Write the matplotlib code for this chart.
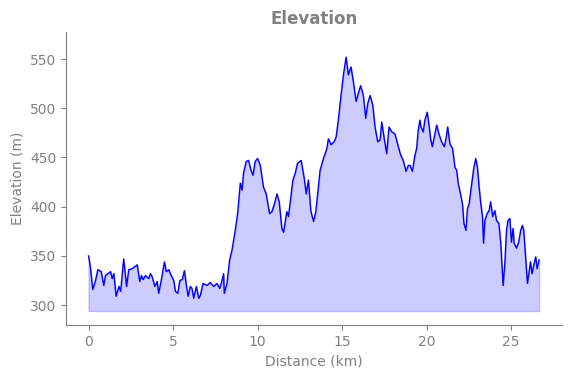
import numpy as np
import matplotlib
matplotlib.use('Agg')
import matplotlib.pyplot as plt

# distance (km) and elevation (m)
distance_km = [
    0.0, 0.1, 0.25, 0.4, 0.55, 0.75, 0.9, 1.0, 1.3, 1.4, 1.5, 1.63, 1.8, 1.9,
    2.08, 2.25, 2.38, 2.58, 2.88, 3.03, 3.13, 3.23, 3.37, 3.56, 3.66, 3.76,
    3.92, 4.06, 4.15, 4.3, 4.49, 4.6, 4.75, 4.84, 5.04, 5.14, 5.28, 5.4, 5.55,
    5.67, 5.79, 5.89, 6.02, 6.12, 6.22, 6.38, 6.52, 6.62, 6.77, 7.01, 7.2, 7.4,
    7.6, 7.76, 7.85, 7.99, 8.03, 8.19, 8.35, 8.49, 8.68, 8.82, 8.98, 9.08,
    9.17, 9.33, 9.47, 9.61, 9.73, 9.86, 10.0, 10.16, 10.35, 10.51, 10.71,
    10.85, 11.0, 11.15, 11.28, 11.44, 11.54, 11.73, 11.83, 12.09, 12.23,
    12.36, 12.58, 12.76, 12.88, 13.01, 13.15, 13.31, 13.45, 13.6, 13.7, 13.9,
    14.1, 14.19, 14.35, 14.53, 14.65, 14.78, 14.93, 15.08, 15.24, 15.37,
    15.53, 15.67, 15.83, 15.96, 16.1, 16.26, 16.4, 16.52, 16.66, 16.82,
    16.95, 17.11, 17.25, 17.35, 17.48, 17.64, 17.78, 17.94, 18.13, 18.33,
    18.46, 18.62, 18.78, 18.92, 19.02, 19.16, 19.31, 19.41, 19.51, 19.61,
    19.67, 19.8, 19.9, 20.04, 20.16, 20.24, 20.34, 20.46, 20.6, 20.73, 20.89,
    21.05, 21.15, 21.25, 21.38, 21.54, 21.68, 21.78, 21.87, 22.01, 22.13,
    22.21, 22.33, 22.42, 22.52, 22.66, 22.8, 22.91, 23.01, 23.11, 23.21,
    23.31, 23.37, 23.45, 23.58, 23.7, 23.79, 23.91, 24.04, 24.14, 24.28,
    24.39, 24.53, 24.63, 24.73, 24.82, 24.93, 25.02, 25.12, 25.18, 25.32,
    25.45, 25.57, 25.67, 25.75, 25.87, 25.97, 26.05, 26.15, 26.24, 26.36,
    26.46, 26.54, 26.66,
]
elevation_m = [
    350, 340, 316, 324, 336, 334, 320, 330, 334, 327, 332, 309, 319, 314,
    347, 319, 336, 337, 341, 324, 330, 326, 330, 327, 332, 329,
    319, 324, 312, 325, 344, 334, 336, 332, 325, 314, 312, 325, 326,
    335, 320, 309, 319, 317, 307, 319, 307, 310, 322, 320, 323, 319,
    322, 317, 322, 332, 312, 322, 346, 356, 376, 393, 424, 417,
    434, 446, 447, 437, 432, 446, 449, 442, 420, 413, 393,
    395, 403, 413, 405, 378, 374, 395, 390, 427, 434,
    444, 447, 429, 413, 427, 396, 385, 395, 420, 437, 449,
    459, 469, 463, 466, 471, 488, 512, 534, 552, 534,
    542, 527, 507, 515, 523, 513, 490, 505, 513, 503,
    481, 466, 468, 486, 471, 454, 481, 476, 474, 461,
    453, 447, 436, 442, 442, 436, 452, 459, 478, 488,
    481, 476, 488, 496, 481, 469, 461, 471, 483, 474, 466,
    461, 469, 481, 464, 459, 440, 437, 424, 413, 402,
    383, 376, 398, 403, 422, 440, 449, 440, 420, 403,
    390, 363, 386, 393, 396, 405, 390, 396, 386, 383,
    363, 320, 342, 376, 386, 388, 364, 378, 363, 358,
    364, 376, 381, 376, 346, 322, 332, 344, 332, 342,
    349, 337, 346,
]
fill_base = 294

grey = '#808080'

fig = plt.figure(figsize=(5.71, 3.78), dpi=100)
ax = fig.add_axes([0.1156, 0.140, 0.868, 0.775])

x = np.array(distance_km)
y = np.array(elevation_m)
ax.fill_between(x, y, fill_base, color='blue', alpha=0.2)
ax.plot(x, y, color='blue', linewidth=1)

ax.set_ylim(279.7, 577.4)
ax.set_yticks([300, 350, 400, 450, 500, 550])
ax.set_xticks([0, 5, 10, 15, 20, 25])

ax.set_title('Elevation', color=grey, fontweight='bold', fontsize=12)
ax.set_xlabel('Distance (km)', color=grey)
ax.set_ylabel('Elevation (m)', color=grey)
ax.tick_params(colors=grey)
for side in ['top', 'right']:
    ax.spines[side].set_visible(False)
for side in ['left', 'bottom']:
    ax.spines[side].set_color(grey)

fig.savefig('out.png', dpi=100)
